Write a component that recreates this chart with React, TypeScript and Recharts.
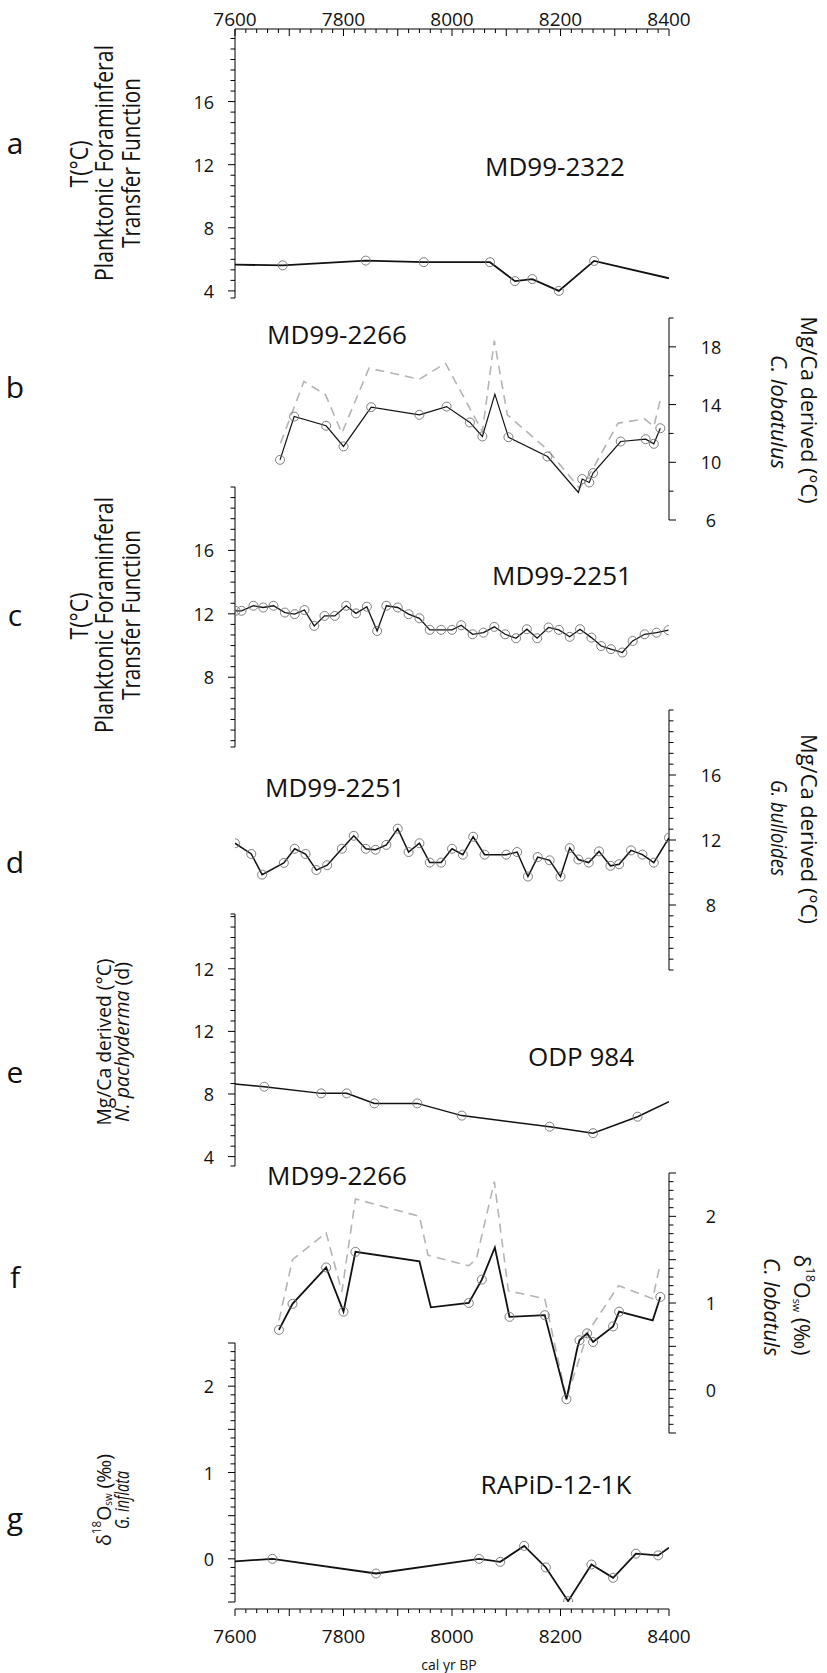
import React from "react";
import { ComposedChart, Line, XAxis, YAxis } from "recharts";

const W = 827;
const H = 1673;
const X0 = 235; // x pixel of 7600
const X1 = 669; // x pixel of 8400
const AXW = 40;
const SANS = "'Open Sans', 'DejaVu Sans', sans-serif";

// ---- a: MD99-2322, transfer function T ----
const aYr = [7600, 7688, 7841, 7948, 8070, 8116, 8148, 8197, 8262, 8400];
const aT = [5.66, 5.62, 5.92, 5.82, 5.82, 4.62, 4.75, 4.0, 5.9, 4.8];
const aDot = [0, 1, 1, 1, 1, 1, 1, 1, 1, 0];

// ---- b: MD99-2266, Mg/Ca C. lobatulus ----
const bYr = [7683, 7709, 7768, 7800, 7851, 7940, 7990, 8033, 8056, 8079, 8104, 8176, 8233, 8240, 8253, 8260, 8311, 8357, 8372, 8384];
const bMg = [10.17, 13.17, 12.53, 11.1, 13.82, 13.29, 13.86, 12.76, 11.79, 14.72, 11.74, 10.4, 7.91, 8.84, 8.6, 9.25, 11.44, 11.6, 11.28, 12.36];
const bDot = [1, 1, 1, 1, 1, 1, 1, 1, 1, 0, 1, 1, 0, 1, 1, 1, 1, 1, 1, 1];
const bGreyYr = [7684, 7727, 7767, 7797, 7847, 7940, 7988, 8056, 8078, 8102, 8176, 8235, 8257, 8306, 8355, 8372, 8384];
const bGrey = [11.33, 15.6, 14.67, 12.02, 16.52, 15.76, 16.86, 12.13, 18.43, 13.29, 10.87, 8.21, 9.37, 12.71, 13.01, 12.48, 14.33];

// ---- c: MD99-2251, transfer function T ----
const cYr = [7601, 7612, 7634, 7652, 7671, 7692, 7710, 7728, 7746, 7765, 7784, 7805, 7823, 7843, 7862, 7879, 7900, 7920, 7940, 7959, 7980, 8000, 8017, 8038, 8058, 8078, 8098, 8118, 8138, 8157, 8178, 8197, 8217, 8236, 8257, 8275, 8293, 8314, 8333, 8355, 8377, 8399];
const cT = [12.19, 12.19, 12.51, 12.4, 12.51, 12.08, 11.98, 12.24, 11.24, 11.87, 11.87, 12.51, 12.03, 12.45, 10.92, 12.51, 12.4, 11.98, 11.72, 10.99, 10.99, 10.99, 11.28, 10.71, 10.81, 11.18, 10.71, 10.46, 11.03, 10.46, 11.14, 10.99, 10.55, 11.03, 10.5, 9.97, 9.77, 9.56, 10.29, 10.71, 10.81, 10.97];

// ---- d: MD99-2251, Mg/Ca G. bulloides ----
const dYr = [7600, 7630, 7650, 7690, 7710, 7730, 7750, 7770, 7797, 7819, 7841, 7859, 7879, 7900, 7920, 7940, 7959, 7980, 8000, 8020, 8039, 8060, 8100, 8120, 8140, 8158, 8180, 8200, 8217, 8233, 8252, 8271, 8292, 8308, 8330, 8351, 8372, 8400];
const dMg = [11.8, 11.14, 9.87, 10.59, 11.46, 11.14, 10.15, 10.45, 11.46, 12.26, 11.46, 11.4, 11.7, 12.7, 11.26, 11.8, 10.61, 10.61, 11.46, 11.1, 12.2, 11.1, 11.1, 11.26, 9.75, 10.95, 10.75, 9.75, 11.5, 10.8, 10.61, 11.3, 10.41, 10.51, 11.36, 11.1, 10.61, 12.14];

// ---- e: ODP 984, Mg/Ca N. pachyderma ----
const eYr = [7600, 7654, 7759, 7806, 7857, 7936, 8018, 8180, 8260, 8342, 8400];
const eT = [8.64, 8.47, 8.04, 8.04, 7.4, 7.4, 6.62, 5.91, 5.5, 6.55, 7.51];
const eDot = [0, 1, 1, 1, 1, 1, 1, 1, 1, 1, 0];

// ---- f: MD99-2266, d18Osw C. lobatulus ----
const fYr = [7681, 7706, 7768, 7800, 7822, 7940, 7961, 8031, 8055, 8079, 8106, 8171, 8211, 8231, 8235, 8249, 8260, 8297, 8308, 8370, 8384];
const fD = [0.69, 0.99, 1.41, 0.9, 1.59, 1.48, 0.95, 1.0, 1.27, 1.64, 0.84, 0.86, -0.11, 0.48, 0.57, 0.65, 0.55, 0.73, 0.9, 0.8, 1.07];
const fDot = [1, 1, 1, 1, 1, 0, 0, 1, 1, 0, 1, 1, 1, 0, 1, 1, 1, 1, 1, 0, 1];
const fGreyYr = [7681, 7706, 7768, 7797, 7822, 7940, 7956, 8031, 8045, 8078, 8104, 8171, 8211, 8251, 8307, 8370, 8384];
const fGrey = [0.8, 1.5, 1.81, 1.13, 2.2, 2.0, 1.55, 1.43, 1.51, 2.4, 1.14, 1.05, -0.1, 0.67, 1.2, 1.05, 1.46];

// ---- g: RAPiD-12-1K, d18Osw G. inflata ----
const gYr = [7600, 7669, 7860, 8050, 8089, 8133, 8173, 8214, 8257, 8297, 8339, 8380, 8400];
const gD = [-0.03, 0.0, -0.17, 0.0, -0.035, 0.15, -0.1, -0.49, -0.066, -0.22, 0.06, 0.04, 0.13];
const gDot = [0, 1, 1, 1, 1, 1, 1, 1, 1, 1, 1, 1, 0];

const xLabels = [7600, 7800, 8000, 8200, 8400];

type Row = { yr: number; v: number; dot: number };
const rows = (yr: number[], v: number[], dot?: number[]): Row[] =>
  yr.map((y, i) => ({ yr: y, v: v[i], dot: dot ? dot[i] : 1 }));

const xTicks: number[] = [];
for (let t = 7600; t <= 8400; t += 20) xTicks.push(t);

function stepTicks(anchor: number, step: number, lo: number, hi: number, extra: number[] = []) {
  const s = new Set<number>(extra.map((v) => +v.toFixed(3)));
  for (let k = -60; k <= 60; k++) {
    const v = +(anchor + k * step).toFixed(3);
    if (v >= lo - 1e-6 && v <= hi + 1e-6) s.add(v);
  }
  return Array.from(s).sort((p, q) => p - q);
}

const ring = (props: any) => {
  const { cx, cy, payload, index } = props;
  if (!payload || !payload.dot) return <g key={`n${index}`} />;
  return <circle key={`c${index}`} cx={cx} cy={cy} r={4.5} fill="none" stroke="#707070" strokeWidth={0.9} />;
};

function makeYTick(side: "left" | "right", labVals: number[], labText: string[], half: boolean) {
  return (props: any) => {
    const { x, y, payload } = props;
    const v = payload.value;
    const j = labVals.findIndex((l) => Math.abs(l - v) < 1e-3);
    const major = half ? Math.abs(v * 2 - Math.round(v * 2)) < 1e-3 : j >= 0;
    const len = major ? 7 : 4.5;
    const dir = side === "left" ? -1 : 1;
    return (
      <g>
        <line x1={x} y1={y} x2={x + dir * len} y2={y} stroke="#000" strokeWidth={1} />
        {j >= 0 && (
          <text x={side === "left" ? x - 21 : x + 42} y={y} textAnchor={side === "left" ? "end" : "middle"}
            dominantBaseline="central" fontSize={18} fontFamily={SANS} fill="#111">
            {labText[j]}
          </text>
        )}
      </g>
    );
  };
}

function makeXTick(top: boolean) {
  return (props: any) => {
    const { x, y, payload } = props;
    const v = payload.value;
    const len = v % 100 === 0 ? 7 : 4;
    const lab = xLabels.includes(v);
    return (
      <g>
        <line x1={x} y1={y} x2={x} y2={y + len} stroke="#000" strokeWidth={1} />
        {lab && (
          <text x={x} y={top ? y - 10 : y + 27} textAnchor="middle" dominantBaseline="central"
            fontSize={19} fontFamily={SANS} fill="#111">
            {v}
          </text>
        )}
      </g>
    );
  };
}

type Series = { data: Row[]; stroke: string; width: number; dash?: string; dots?: boolean };
type PanelProps = {
  y0: number; y1: number; domain: [number, number]; side: "left" | "right";
  ticks: number[]; labVals: number[]; labText: string[]; half?: boolean;
  series: Series[]; topAxis?: boolean;
};

function Panel(p: PanelProps) {
  const left = p.side === "left";
  const xh = p.topAxis ? 20 : 0;
  const margin = {
    top: p.y0 - xh,
    bottom: H - p.y1,
    left: left ? X0 - AXW : X0,
    right: left ? W - X1 : W - X1 - AXW,
  };
  return (
    <div style={{ position: "absolute", left: 0, top: 0 }}>
      <ComposedChart width={W} height={H} margin={margin}>
        <XAxis type="number" dataKey="yr" domain={[7600, 8400]} allowDataOverflow hide={!p.topAxis}
          orientation="top" height={xh} ticks={xTicks} interval={0} tickSize={0} tickMargin={0}
          tickLine={false} axisLine={{ stroke: "#000", strokeWidth: 1 }} tick={makeXTick(true)} />
        <YAxis type="number" orientation={p.side} domain={p.domain} allowDataOverflow width={AXW}
          ticks={p.ticks} interval={0} tickSize={0} tickMargin={0} tickLine={false}
          axisLine={{ stroke: "#000", strokeWidth: 1 }}
          tick={makeYTick(p.side, p.labVals, p.labText, !!p.half)} />
        {p.series.map((s, i) => (
          <Line key={i} data={s.data} dataKey="v" type="linear" stroke={s.stroke} strokeWidth={s.width}
            strokeDasharray={s.dash} dot={s.dots ? ring : false} activeDot={false}
            isAnimationActive={false} />
        ))}
      </ComposedChart>
    </div>
  );
}

function BottomAxis() {
  return (
    <div style={{ position: "absolute", left: 0, top: 0 }}>
      <ComposedChart width={W} height={H} data={rows(gYr, gD)}
        margin={{ top: 1500, bottom: H - 1609 - 40, left: X0, right: W - X1 }}>
        <XAxis type="number" dataKey="yr" domain={[7600, 8400]} allowDataOverflow orientation="bottom"
          height={40} ticks={xTicks} interval={0} tickSize={0} tickMargin={0} tickLine={false}
          axisLine={{ stroke: "#000", strokeWidth: 1 }} tick={makeXTick(false)} />
        <YAxis hide domain={[-0.5, 2.5]} />
      </ComposedChart>
    </div>
  );
}

const BLACK = "#111";
const GREY = "#b4b4b4";

function Rot({ x, y, rot, len, size, children }: { x: number; y: number; rot: number; len: number; size: number; children: React.ReactNode }) {
  return (
    <text transform={`translate(${x} ${y}) rotate(${rot})`} textAnchor="middle" dominantBaseline="central"
      fontFamily={SANS} fontSize={size} textLength={len} lengthAdjust="spacingAndGlyphs" fill="#111">
      {children}
    </text>
  );
}

const D18 = ({ s }: { s: number }) => (
  <>
    <tspan>δ</tspan>
    <tspan dy={-s * 0.35} fontSize={s * 0.6}>18</tspan>
    <tspan dy={s * 0.35}>O</tspan>
    <tspan dy={s * 0.25} fontSize={s * 0.5}>sw</tspan>
    <tspan dy={-s * 0.25}> (‰)</tspan>
  </>
);

function Overlay() {
  const name = (x: number, y: number, t: string) => (
    <text x={x} y={y} textAnchor="middle" dominantBaseline="central" fontFamily={SANS} fontSize={26} fill="#111">{t}</text>
  );
  const letter = (y: number, t: string) => (
    <text x={15} y={y} textAnchor="middle" dominantBaseline="central" fontFamily={SANS} fontSize={30} fill="#111">{t}</text>
  );
  return (
    <svg width={W} height={H} style={{ position: "absolute", left: 0, top: 0 }}>
      {letter(142, "a")}
      {letter(386, "b")}
      {letter(614, "c")}
      {letter(861, "d")}
      {letter(1071, "e")}
      {letter(1276, "f")}
      {letter(1517, "g")}

      {name(555, 166, "MD99-2322")}
      {name(337, 334, "MD99-2266")}
      {name(562, 575, "MD99-2251")}
      {name(335, 787, "MD99-2251")}
      {name(581, 1056, "ODP 984")}
      {name(337, 1175, "MD99-2266")}
      {name(556, 1484, "RAPiD-12-1K")}

      <Rot x={78} y={164} rot={-90} len={47} size={25}>T(°C)</Rot>
      <Rot x={103} y={163} rot={-90} len={236} size={25}>Planktonic Foraminferal</Rot>
      <Rot x={130} y={163} rot={-90} len={170} size={25}>Transfer Function</Rot>

      <Rot x={78} y={616} rot={-90} len={47} size={25}>T(°C)</Rot>
      <Rot x={103} y={615} rot={-90} len={236} size={25}>Planktonic Foraminferal</Rot>
      <Rot x={130} y={615} rot={-90} len={170} size={25}>Transfer Function</Rot>

      <Rot x={810} y={410} rot={90} len={187} size={22}>Mg/Ca derived (°C)</Rot>
      <Rot x={780} y={412} rot={90} len={114} size={22}><tspan fontStyle="italic">C. lobatulus</tspan></Rot>

      <Rot x={810} y={829} rot={90} len={190} size={22}>Mg/Ca derived (°C)</Rot>
      <Rot x={780} y={828} rot={90} len={96} size={22}><tspan fontStyle="italic">G. bulloides</tspan></Rot>

      <Rot x={103} y={1042} rot={-90} len={167} size={20}>Mg/Ca derived (°C)</Rot>
      <Rot x={121} y={1042} rot={-90} len={160} size={20}><tspan fontStyle="italic">N. pachyderma</tspan> (d)</Rot>

      <Rot x={803} y={1305} rot={90} len={101} size={22}><D18 s={22} /></Rot>
      <Rot x={773} y={1307} rot={90} len={98} size={22}><tspan fontStyle="italic">C. lobatuls</tspan></Rot>

      <Rot x={103} y={1500} rot={-90} len={92} size={20}><D18 s={20} /></Rot>
      <Rot x={121} y={1500} rot={-90} len={58} size={20}><tspan fontStyle="italic">G. inflata</tspan></Rot>

      <text x={449} y={1664} textAnchor="middle" dominantBaseline="central" fontFamily={SANS} fontSize={14} fill="#111">cal yr BP</text>
    </svg>
  );
}

const thirds = (lo: number, hi: number, extra: number[] = []) => stepTicks(4, 2 / 3, lo, hi, extra);
const tenths = stepTicks(0, 0.1, -0.5, 2.5);

export default function App() {
  return (
    <div style={{ position: "absolute", left: 0, top: 0, width: W, height: H, background: "#fff" }}>
      <Panel y0={29} y1={298} domain={[3.55, 20.6]} side="left" topAxis
        ticks={thirds(3.55, 20.6, [3.55])} labVals={[4, 8, 12, 16]} labText={["4", "8", "12", "16"]}
        series={[{ data: rows(aYr, aT, aDot), stroke: BLACK, width: 1.8, dots: true }]} />
      <Panel y0={318} y1={520} domain={[6, 20]} side="right"
        ticks={[6, 8, 10, 12, 14, 16, 18, 20]} labVals={[6, 10, 14, 18]} labText={["6", "10", "14", "18"]}
        series={[
          { data: rows(bGreyYr, bGrey), stroke: GREY, width: 1.6, dash: "9 6" },
          { data: rows(bYr, bMg, bDot), stroke: BLACK, width: 1.2, dots: true },
        ]} />
      <Panel y0={487} y1={747} domain={[3.6, 20]} side="left"
        ticks={thirds(3.6, 20, [3.6])} labVals={[8, 12, 16]} labText={["8", "12", "16"]}
        series={[{ data: rows(cYr, cT), stroke: BLACK, width: 1.3, dots: true }]} />
      <Panel y0={710} y1={970} domain={[4, 20]} side="right"
        ticks={thirds(4, 20)} labVals={[8, 12, 16]} labText={["8", "12", "16"]}
        series={[{ data: rows(dYr, dMg), stroke: BLACK, width: 1.5, dots: true }]} />
      <Panel y0={914} y1={1166} domain={[3.4, 19.5]} side="left"
        ticks={thirds(3.4, 19.5, [3.4, 19.5])} labVals={[4, 8, 12, 16]} labText={["4", "8", "12", "12"]}
        series={[{ data: rows(eYr, eT, eDot), stroke: BLACK, width: 1.5, dots: true }]} />
      <Panel y0={1173} y1={1433} domain={[-0.5, 2.5]} side="right" half
        ticks={tenths} labVals={[0, 1, 2]} labText={["0", "1", "2"]}
        series={[
          { data: rows(fGreyYr, fGrey), stroke: GREY, width: 1.6, dash: "9 6" },
          { data: rows(fYr, fD, fDot), stroke: BLACK, width: 1.8, dots: true },
        ]} />
      <Panel y0={1343} y1={1602} domain={[-0.5, 2.5]} side="left" half
        ticks={tenths} labVals={[0, 1, 2]} labText={["0", "1", "2"]}
        series={[{ data: rows(gYr, gD, gDot), stroke: BLACK, width: 1.8, dots: true }]} />
      <BottomAxis />
      <Overlay />
    </div>
  );
}
